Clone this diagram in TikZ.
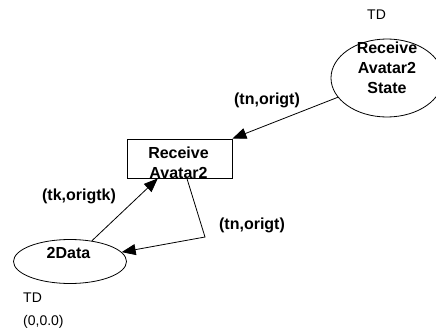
\documentclass[tikz,border=0pt]{standalone}
\usepackage{fontspec}
\setmainfont{Liberation Sans}
\usetikzlibrary{arrows.meta,calc,shapes.geometric}
\begin{document}
\begin{tikzpicture}[x=1pt,y=-1pt,
  lbl/.style={font=\fontsize{16}{20}\selectfont\bfseries, inner sep=0pt, align=center},
  note/.style={font=\fontsize{14}{17}\selectfont, inner sep=0pt, anchor=west},
  place/.style={draw, ellipse, inner sep=0pt, line width=0.8pt},
  trans/.style={draw, rectangle, inner sep=0pt, line width=0.8pt},
  arc/.style={line width=0.8pt, -{Triangle[length=14pt,width=11pt]}}]
\useasboundingbox (0,0) rectangle (436,332);

% places and transition
\node[place, minimum width=112, minimum height=78] (rs) at (387,78) {};
\node[lbl] (rst) at (387,68) {Receive\\Avatar2\\State};
\node[trans, minimum width=105, minimum height=39] (ra) at (179.5,158.5) {};
\node[lbl] (rat) at (178.5,162.3) {Receive\\Avatar2};
\node[place, minimum width=113, minimum height=44] (dt) at (70,261.5) {};
\node[lbl] (dtt) at (68.5,252.8) {2Data};

% colour sets and initial marking
\node[note] (td1) at (367,15) {TD};
\node[note] (td2) at (23,298) {TD};
\node[note] (mark) at (23,322) {(0,0.0)};

% arcs
\coordinate (bend) at (205,237);
\draw[arc] (rs) -- (ra.north east);
\draw[arc] (dt) -- ($(ra.south west)!0.295!(ra.south east)$);
\draw[arc] ($(ra.south west)!0.57!(ra.south east)$) -- (bend) -- (dt);

% arc inscriptions
\node[lbl] (i1) at (267,100.5) {(tn,origt)};
\node[lbl] (i2) at (79,196.7) {(tk,origtk)};
\node[lbl] (i3) at (252,225) {(tn,origt)};
\end{tikzpicture}
\end{document}
